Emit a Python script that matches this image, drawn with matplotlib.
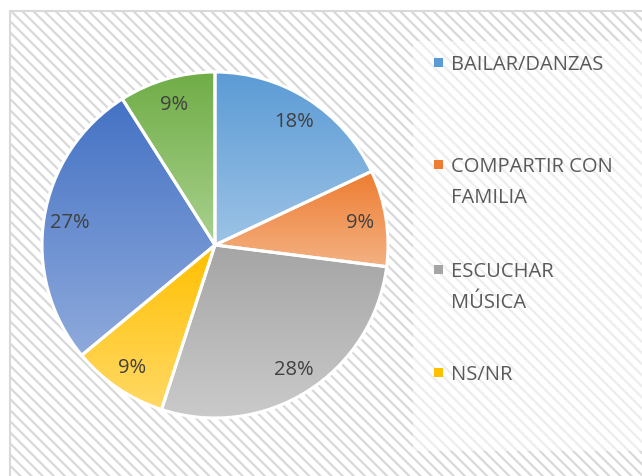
import matplotlib.pyplot as plt
import numpy as np
from matplotlib.colors import to_rgb
from matplotlib.patches import Rectangle

# slices, clockwise from 12 o'clock
categories = ['BAILAR/DANZAS', 'COMPARTIR CON\nFAMILIA', 'ESCUCHAR\nMÚSICA',
              'NS/NR', 'OTRO 1', 'OTRO 2']
values = [18, 9, 28, 9, 27, 9]
legend_shown = 4  # the legend is cut off after NS/NR

top_colors = ['#5B9BD5', '#ED7D31', '#A5A5A5', '#FFC000', '#4472C4', '#70AD47']
bottom_colors = ['#9DC3E6', '#F4B183', '#CACACA', '#FFD966', '#8FAADC', '#A9D18E']

plt.rcParams['font.family'] = ['Open Sans', 'DejaVu Sans']
plt.rcParams['hatch.color'] = '#DADADA'
plt.rcParams['hatch.linewidth'] = 1.6

W, H = 642, 477
fig = plt.figure(figsize=(W / 100, H / 100), dpi=100)

# hatched chart area with thin border
bg = Rectangle((10.5 / W, -0.1), 1.2, 1.1 - 11.5 / H, transform=fig.transFigure,
               facecolor='white', edgecolor='#D9D9D9', hatch='\\\\\\',
               linewidth=1.5, zorder=-3)
fig.patches.append(bg)
# lighter legend area
lg = Rectangle((413 / W, (H - 452) / H), 1.0, (452 - 42) / H,
               transform=fig.transFigure, facecolor=(1, 1, 1, 0.55),
               edgecolor='none', zorder=-2)
fig.patches.append(lg)

# pie axes: centre (215, 246) px, radius 173 px
cx, cy, r = 215, H - 246, 173
lim = 1.1
ax = fig.add_axes([(cx - r * lim) / W, (cy - r * lim) / H,
                   2 * r * lim / W, 2 * r * lim / H])
ax.patch.set_alpha(0)

wedges, texts, autotexts = ax.pie(
    values, startangle=90, counterclock=False, radius=1,
    autopct=lambda p: f'{p:.0f}%', pctdistance=0.85,
    wedgeprops=dict(edgecolor='white', linewidth=2.2),
    textprops=dict(color='#404040', fontsize=14.5))

for w, c0, c1 in zip(wedges, top_colors, bottom_colors):
    ext = w.get_path().get_extents()
    t = np.linspace(0, 1, 128)[:, None]
    grad = (1 - t) * np.array(to_rgb(c0)) + t * np.array(to_rgb(c1))
    im = ax.imshow(grad[:, None, :], extent=(ext.x0, ext.x1, ext.y0, ext.y1),
                   origin='upper', aspect='auto', zorder=1, interpolation='bilinear')
    im.set_clip_path(w)
    w.set_facecolor('none')
    w.set_zorder(2)
for t in autotexts:
    t.set_zorder(3)

ax.set_xlim(-lim, lim)
ax.set_ylim(-lim, lim)
ax.set_aspect('equal')
ax.axis('off')

# legend (only the visible part), one text per line
legend_y = [63, 165, 270, 373]
line_pitch = 31
for lab, c, y in zip(categories[:legend_shown], top_colors, legend_y):
    fig.patches.append(Rectangle((434 / W, (H - y - 4.5) / H), 9 / W, 9 / H,
                                 transform=fig.transFigure, facecolor=c,
                                 edgecolor='none', zorder=3))
    for i, line in enumerate(lab.split('\n')):
        fig.text(451 / W, (H - y - 7 - i * line_pitch) / H, line,
                 ha='left', va='baseline', fontsize=14.5, color='#595959')

fig.savefig('out.png', dpi=100)
